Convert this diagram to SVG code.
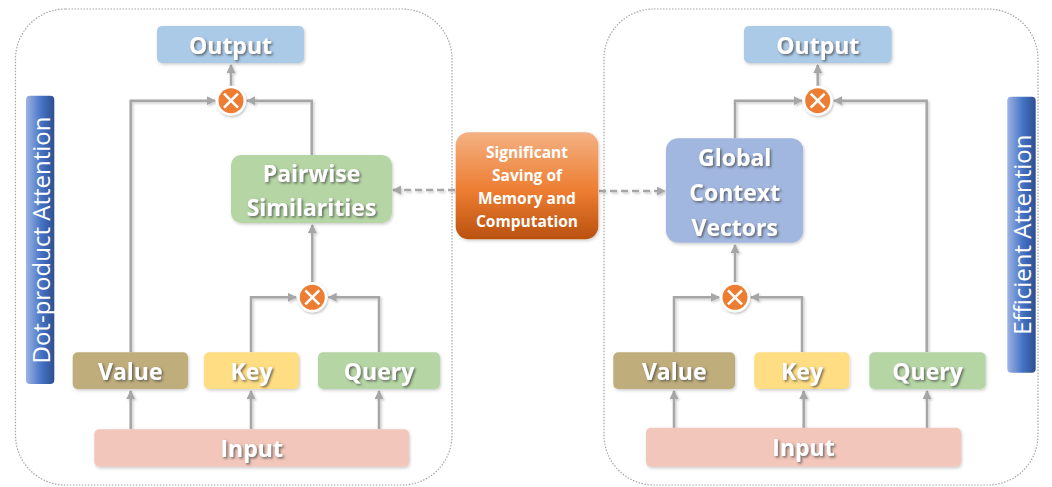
<svg xmlns="http://www.w3.org/2000/svg" width="1052" height="487" viewBox="0 0 1052 487">
<defs>
<style>
.panel{fill:none;stroke:#a6a6a6;stroke-width:1.2;stroke-dasharray:1.5 1.5}
.lbl{font-family:"Open Sans","Liberation Sans",sans-serif;font-weight:700;fill:#fff;text-anchor:middle;dominant-baseline:central;filter:url(#ts)}
.big{font-size:23px}
.sm{font-size:15.5px;font-weight:700;font-family:"Open Sans","Liberation Sans",sans-serif;fill:#fff;text-anchor:middle;dominant-baseline:central}
.bar{font-family:"Open Sans","Liberation Sans",sans-serif;font-size:24px;fill:#fff;text-anchor:middle;dominant-baseline:central}
.con{fill:none;stroke:#a6a6a6;stroke-width:2.5;marker-end:url(#ah)}
.dash{fill:none;stroke:#a6a6a6;stroke-width:2.4;stroke-dasharray:7 4;marker-end:url(#ah)}
.box{filter:url(#bs)}
</style>
<filter id="ts" x="-20%" y="-30%" width="140%" height="160%"><feDropShadow dx="1.5" dy="1.5" stdDeviation="0.8" flood-color="#444" flood-opacity="0.75"/></filter>
<filter id="bs" x="-10%" y="-20%" width="120%" height="140%"><feDropShadow dx="1" dy="1.5" stdDeviation="1.5" flood-color="#000" flood-opacity="0.2"/></filter>
<filter id="cs" x="-30%" y="-30%" width="160%" height="160%"><feDropShadow dx="1" dy="1.5" stdDeviation="1.2" flood-color="#000" flood-opacity="0.25"/></filter>
<filter id="ls" filterUnits="userSpaceOnUse" x="0" y="0" width="1052" height="487"><feDropShadow dx="1.5" dy="1.5" stdDeviation="1.2" flood-color="#000" flood-opacity="0.2"/></filter>
<marker id="ah" viewBox="0 0 10 10" refX="9" refY="5" markerWidth="9" markerHeight="9" markerUnits="userSpaceOnUse" orient="auto"><path d="M0,0 L10,5 L0,10 z" fill="#a6a6a6"/></marker>
<linearGradient id="barg" x1="0" y1="0" x2="1" y2="0"><stop offset="0" stop-color="#9db3e3"/><stop offset="0.55" stop-color="#4472c4"/><stop offset="1" stop-color="#2f4f8f"/></linearGradient>
<linearGradient id="org" x1="0" y1="0" x2="0" y2="1"><stop offset="0" stop-color="#f4b183"/><stop offset="0.55" stop-color="#ed7d31"/><stop offset="1" stop-color="#b9510f"/></linearGradient>
<g id="mul"><circle r="15" fill="#fff"/><circle r="12.5" fill="#ed7d31"/><path d="M-7,-7 L7,7 M-7,7 L7,-7" stroke="#fff" stroke-width="2.6"/></g>
</defs>
<rect width="1052" height="487" fill="#fff"/>
<rect class="panel" x="15.5" y="9" width="436.5" height="476" rx="50"/>
<rect class="panel" x="604" y="9" width="434" height="476" rx="50"/>

<g id="connectors" filter="url(#ls)">
<path class="con" d="M231,86 L231,65"/>
<path class="con" d="M130.7,352 L130.7,100.7 L215,100.7"/>
<path class="con" d="M311.7,155 L311.7,100.7 L247,100.7"/>
<path class="con" d="M312.3,282 L312.3,225"/>
<path class="con" d="M251,352 L251,297.3 L296,297.3"/>
<path class="con" d="M379,352 L379,297.3 L328.5,297.3"/>
<path class="con" d="M130.7,429 L130.7,391"/>
<path class="con" d="M251,429 L251,391"/>
<path class="con" d="M379,429 L379,391"/>
<path class="dash" d="M455,190 L393,190"/>
<path class="dash" d="M599,191 L665,191"/>
<path class="con" d="M817.7,86 L817.7,65"/>
<path class="con" d="M735,138 L735,100.7 L802,100.7"/>
<path class="con" d="M926.7,352 L926.7,100.7 L834,100.7"/>
<path class="con" d="M735,282 L735,245"/>
<path class="con" d="M674,352 L674,297.3 L719,297.3"/>
<path class="con" d="M802,352 L802,297.3 L751,297.3"/>
<path class="con" d="M674,428 L674,391"/>
<path class="con" d="M803.7,428 L803.7,391"/>
<path class="con" d="M927,428 L927,391"/>
</g>

<g id="dot-bar"><rect x="26" y="95.7" width="28.3" height="288.3" rx="4" fill="url(#barg)"/><text class="bar" transform="translate(40.5,240) rotate(-90)">Dot-product Attention</text></g>
<g id="eff-bar"><rect x="1007.3" y="96.7" width="28.4" height="276" rx="4" fill="url(#barg)"/><text class="bar" transform="translate(1021.5,234.7) rotate(-90)">Efficient Attention</text></g>

<g id="l-output"><rect class="box" x="157" y="26" width="147" height="37" rx="5" fill="#abcae8"/><text class="lbl big" x="230.5" y="44.5">Output</text></g>
<g id="l-mul1" filter="url(#cs)"><use href="#mul" x="231" y="100.7"/></g>
<g id="l-pair"><rect class="box" x="231" y="155" width="161" height="68" rx="10" fill="#b5d6a4"/><text class="lbl big" x="311.5" y="173">Pairwise</text><text class="lbl big" x="311.5" y="207">Similarities</text></g>
<g id="l-mul2" filter="url(#cs)"><use href="#mul" x="312.3" y="297.3"/></g>
<g id="l-value"><rect class="box" x="72.7" y="352.3" width="115.3" height="36.7" rx="5" fill="#bfad7c"/><text class="lbl big" x="130.3" y="371">Value</text></g>
<g id="l-key"><rect class="box" x="204" y="352.3" width="95" height="36.7" rx="5" fill="#ffdd82"/><text class="lbl big" x="251.5" y="371">Key</text></g>
<g id="l-query"><rect class="box" x="318" y="352.3" width="122" height="36.7" rx="5" fill="#b5d6a4"/><text class="lbl big" x="379" y="371">Query</text></g>
<g id="l-input"><rect class="box" x="94.3" y="429.3" width="314.7" height="37.4" rx="5" fill="#f2c6ba"/><text class="lbl big" x="251.7" y="448">Input</text></g>

<g id="saving"><rect class="box" x="455.7" y="132.3" width="142.6" height="107" rx="13" fill="url(#org)"/><text class="sm" x="527" y="152.3">Significant</text><text class="sm" x="527" y="175">Saving of</text><text class="sm" x="527" y="198.3">Memory and</text><text class="sm" x="527" y="220.5">Computation</text></g>

<g id="r-output"><rect class="box" x="744" y="26" width="147.7" height="37" rx="5" fill="#abcae8"/><text class="lbl big" x="817.8" y="44.5">Output</text></g>
<g id="r-mul1" filter="url(#cs)"><use href="#mul" x="817.7" y="100.7"/></g>
<g id="r-global"><rect class="box" x="666" y="138.3" width="137.3" height="104.4" rx="12" fill="#a2b7e0"/><text class="lbl big" x="734.7" y="157">Global</text><text class="lbl big" x="734.7" y="192">Context</text><text class="lbl big" x="734.7" y="226.5">Vectors</text></g>
<g id="r-mul2" filter="url(#cs)"><use href="#mul" x="735" y="297.3"/></g>
<g id="r-value"><rect class="box" x="613.3" y="352.3" width="121.7" height="36.7" rx="5" fill="#bfad7c"/><text class="lbl big" x="674.2" y="371">Value</text></g>
<g id="r-key"><rect class="box" x="754.3" y="352.3" width="95" height="36.7" rx="5" fill="#ffdd82"/><text class="lbl big" x="802" y="371">Key</text></g>
<g id="r-query"><rect class="box" x="869.3" y="352.3" width="116.4" height="36.7" rx="5" fill="#b5d6a4"/><text class="lbl big" x="927.5" y="371">Query</text></g>
<g id="r-input"><rect class="box" x="646" y="427.7" width="315" height="39" rx="5" fill="#f2c6ba"/><text class="lbl big" x="803.5" y="447">Input</text></g>
</svg>
